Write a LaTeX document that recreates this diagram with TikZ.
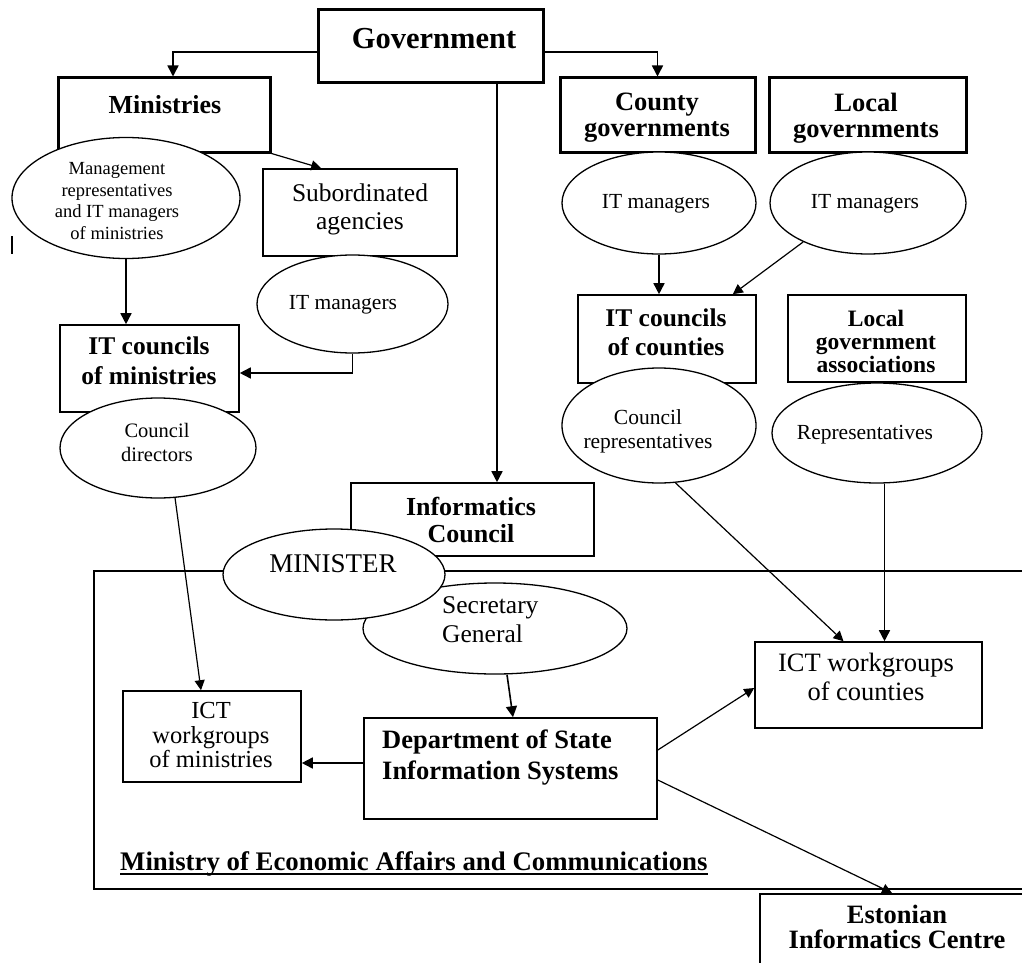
\documentclass[tikz,border=0pt]{standalone}
\usepackage{fontspec}
\setmainfont{Liberation Serif}
\usetikzlibrary{shapes.geometric,arrows.meta,calc}
\newcommand\fsz[2]{\fontsize{#1}{#2}\selectfont}
\begin{document}
\begin{tikzpicture}[x=1pt,y=-1pt,
  bx/.style={draw, rectangle, line width=1.6pt, fill=white, inner sep=0pt},
  tbx/.style={bx, line width=3pt},
  el/.style={draw, ellipse, line width=1.3pt, fill=white, inner sep=0pt},
  txt/.style={inner sep=0pt, align=center},
  arr/.style={line width=1.6pt, -{Triangle[length=11pt,width=11pt]}},
  darr/.style={line width=1.2pt, -{Triangle[length=10pt,width=10pt]}}
]
\useasboundingbox (0,0) rectangle (1022,963);
\clip (0,0) rectangle (1022,963);
\fill[white] (0,0) rectangle (1022,963);

% container box
\node[bx, fill=none, minimum width=960, minimum height=318, anchor=north west] (moe) at (93,570) {};
\node[anchor=base west, inner sep=0pt, font=\fsz{26.8}{28}\bfseries] (moe-t) at (120,870) {Ministry of Economic Affairs and Communications};
\draw[line width=1.5pt] ($(moe-t.base west)+(0,4)$) -- ($(moe-t.base east)+(0,4)$);

% Estonian Informatics Centre
\node[bx, minimum width=300, minimum height=100, anchor=north west] (eic) at (759,893) {};
\node[txt, font=\fsz{26.5}{25}\bfseries] (eic-t) at (897,927) {Estonian\\Informatics Centre};

% top row
\node[tbx, minimum width=225, minimum height=73] (gov) at (430.5,46.5) {};
\node[txt, font=\fsz{30.5}{32}\bfseries] (gov-t) at (434,39) {Government};
\node[tbx, minimum width=212, minimum height=74] (min) at (164,115) {};
\node[txt, font=\fsz{26}{28}\bfseries] (min-t) at (165,105) {Ministries};
\node[tbx, minimum width=195, minimum height=74] (cg) at (657.5,115) {};
\node[txt, font=\fsz{26.5}{26}\bfseries] (cg-t) at (657,118) {County\\governments};
\node[tbx, minimum width=197, minimum height=74] (lg) at (867.5,115) {};
\node[txt, font=\fsz{26.5}{26}\bfseries] (lg-t) at (866,118) {Local\\governments};

% boxes
\node[bx, minimum width=194, minimum height=87] (sub) at (360,212.5) {};
\node[txt, font=\fsz{25.5}{28}] (sub-t) at (360,209) {Subordinated\\agencies};
\node[bx, minimum width=179, minimum height=87] (itcm) at (149.5,368.5) {};
\node[txt, font=\fsz{25.5}{30}\bfseries] (itcm-t) at (149,361) {IT councils\\of ministries};
\node[bx, minimum width=178, minimum height=88] (itcc) at (667,339) {};
\node[txt, font=\fsz{25.5}{29}\bfseries] (itcc-t) at (666,332) {IT councils\\of counties};
\node[bx, minimum width=178, minimum height=87] (lga) at (877,338.5) {};
\node[txt, font=\fsz{23.5}{23}\bfseries] (lga-t) at (876,341) {Local\\government\\associations};
\node[bx, minimum width=243, minimum height=73] (ic) at (472.5,519.5) {};
\node[txt, font=\fsz{26}{27}\bfseries] (ic-t) at (471,520) {Informatics\\Council};
\node[bx, minimum width=293, minimum height=101] (dsis) at (510.5,768.5) {};
\node[txt, align=left, anchor=west, font=\fsz{26.5}{31}\bfseries] (dsis-t) at (382,758) {Department of State\\Information Systems};
\node[bx, minimum width=178, minimum height=91] (icwm) at (212,736.5) {};
\node[txt, font=\fsz{24.5}{24.5}] (icwm-t) at (211,735) {ICT\\workgroups\\of ministries};
\node[bx, minimum width=227, minimum height=86] (icwc) at (868.5,685) {};
\node[txt, font=\fsz{26.5}{29}] (icwc-t) at (866,677) {ICT workgroups\\of counties};

% ellipses
\node[el, minimum width=228, minimum height=121] (mgmt) at (126,198) {};
\node[txt, font=\fsz{18.5}{21.5}] (mgmt-t) at (117,201) {Management\\representatives\\and IT managers\\of ministries};
\node[el, minimum width=191, minimum height=98] (itm1) at (352.5,304) {};
\node[txt, font=\fsz{21.5}{24}] (itm1-t) at (343,305) {IT managers};
\node[el, minimum width=194, minimum height=102] (itm2) at (659,203) {};
\node[txt, font=\fsz{21.5}{24}] (itm2-t) at (656,204) {IT managers};
\node[el, minimum width=196, minimum height=102] (itm3) at (868,203) {};
\node[txt, font=\fsz{21.5}{24}] (itm3-t) at (865,204) {IT managers};
\node[el, minimum width=196, minimum height=100] (cd) at (158,448) {};
\node[txt, font=\fsz{20.5}{24}] (cd-t) at (157,442) {Council\\directors};
\node[el, minimum width=194, minimum height=115] (cr) at (659,425.5) {};
\node[txt, font=\fsz{21.5}{24}] (cr-t) at (648,431) {Council\\representatives};
\node[el, minimum width=210, minimum height=100] (rep) at (877,433) {};
\node[txt, font=\fsz{21.5}{24}] (rep-t) at (865,435) {Representatives};
\node[el, minimum width=264, minimum height=91] (sg) at (495,628.5) {};
\node[txt, align=left, anchor=west, font=\fsz{25.5}{29}] (sg-t) at (442,620) {Secretary\\General};
\node[el, minimum width=222, minimum height=91] (mst) at (334,574.5) {};
\node[txt, font=\fsz{27}{28}] (mst-t) at (333,564) {MINISTER};

% stray mark
\draw[line width=1.5pt] (12,236) -- (12,254);

% connectors
\draw[arr] ($(gov.west)+(0,5.5)$) -| ($(min.north)+(9,0)$);
\draw[arr] ($(gov.east)+(0,5.5)$) -| (cg.north);
\draw[arr] ($(gov.south)+(66.5,0)$) -- ($(ic.north)+(24.5,0)$);
\draw[darr] (min.south east) -- ($(sub.north west)+(59,0)$);
\draw[arr] (mgmt.south) -- (mgmt.south |- itcm.north);
\draw[arr] (itm1.south) |- ($(itcm.east)+(0,4.5)$);
\draw[darr] ($(cd.south)+(17,-1)$) -- ($(icwm.north)+(-11,0)$);
\draw[arr] (itm2.south) -- (itm2.south |- itcc.north);
\draw[darr] (itm3.211) -- ($(itcc.north east)+(-24,0)$);
\draw[darr] (cr.-74) -- ($(icwc.north)+(-25,0)$);
\draw[arr] ($(rep.south)+(7.5,0)$) -- ($(icwc.north)+(16,0)$);
\draw[arr] ($(sg.south)+(12,0)$) -- ($(dsis.north)+(2.5,0)$);
\coordinate (p1) at ($(dsis.west)+(0,-5.5)$);
\draw[arr] (p1) -- (p1 -| icwm.east);
\draw[darr] ($(dsis.east)+(0,-18.5)$) -- ($(icwc.west)+(0,3)$);
\draw[darr] ($(dsis.east)+(0,11.5)$) -- ($(eic.north west)+(133,0)$);
\end{tikzpicture}
\end{document}
